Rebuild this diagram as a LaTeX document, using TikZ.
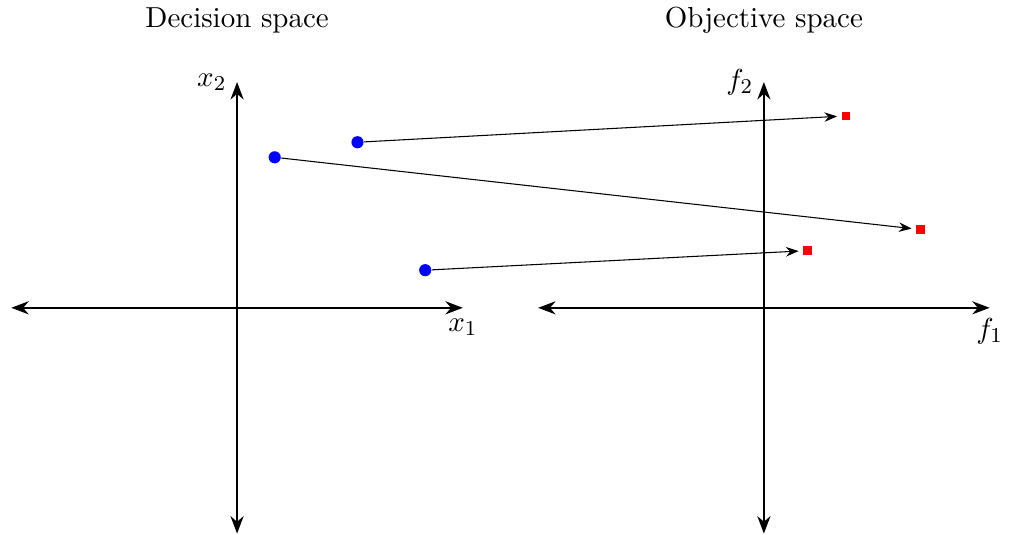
\documentclass[tikz,border=0pt,11pt]{standalone}
\usepackage{tikz}
\usetikzlibrary{arrows.meta, positioning}

\begin{document}
\begin{tikzpicture}[axis/.style={draw, thick, Stealth-Stealth}, map/.style={draw, -Stealth, shorten >=1.5pt}, decpt/.style={shape=circle, fill=blue, inner sep=0pt, minimum size=4.6pt}, objpt/.style={shape=rectangle, fill=red, inner sep=0pt, minimum size=3.3pt}]
    \useasboundingbox (-3.15,-3.01) rectangle (10.27,4.09);

    % titles
    \node at (0, 3.82) (TD) {Decision space};
    \node at (7, 3.82) (TO) {Objective space};

    % decision space axes
    \coordinate (XW) at (-3, 0);
    \coordinate (XE) at (3, 0);
    \coordinate (XS) at (0, -3);
    \coordinate (XN) at (0, 3);
    \path[axis] (XW) -- (XE) node [below] {$x_1$};
    \path[axis] (XS) -- (XN) node [left] {$x_2$};

    % objective space axes
    \coordinate (FW) at (4, 0);
    \coordinate (FE) at (10, 0);
    \coordinate (FS) at (7, -3);
    \coordinate (FN) at (7, 3);
    \path[axis] (FW) -- (FE) node [below] {$f_1$};
    \path[axis] (FS) -- (FN) node [left] {$f_2$};

    % solutions
    \node at (1.6, 2.2) (D1) [decpt] {};
    \node at (0.5, 2.0) (D2) [decpt] {};
    \node at (2.5, 0.5) (D3) [decpt] {};

    % their images
    \node at (8.09, 2.55) (O1) [objpt] {};
    \node at (9.08, 1.04) (O2) [objpt] {};
    \node at (7.58, 0.76) (O3) [objpt] {};

    \path[map] (D1) -- (O1);
    \path[map] (D2) -- (O2);
    \path[map] (D3) -- (O3);

\end{tikzpicture}
\end{document}
